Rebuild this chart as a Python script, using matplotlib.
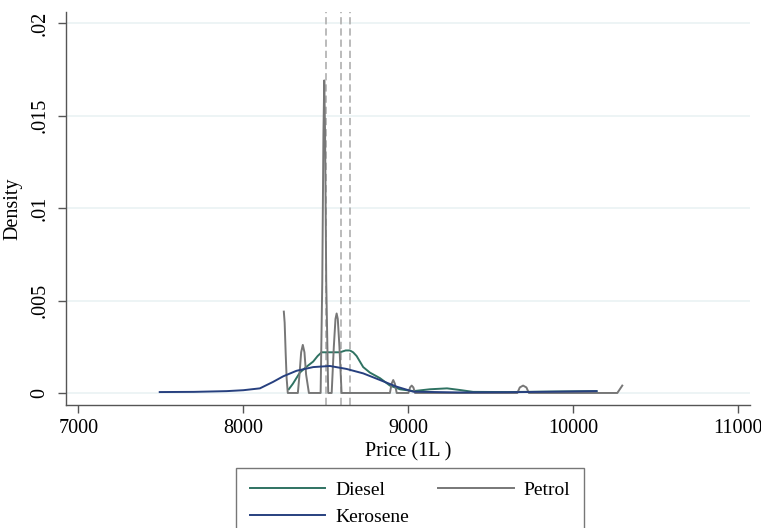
import matplotlib
matplotlib.use("Agg")
import matplotlib.pyplot as plt

# density curves (price, density)
diesel_x = [8275, 8300, 8342, 8380, 8423, 8450, 8474, 8524, 8585, 8620, 8645, 8665,
            8686, 8726, 8767, 8828, 8888, 8949, 9030, 9130, 9234, 9313, 9392, 9600,
            9900, 10140]
diesel_y = [0.0002, 0.0005, 0.0011, 0.0014, 0.0017, 0.0020, 0.0022, 0.0022, 0.0022,
            0.0023, 0.0023, 0.0022, 0.0020, 0.0014, 0.0011, 0.0008, 0.0004, 0.0002,
            0.0001, 0.0002, 0.00025, 0.00016, 0.00006, 0.00005, 0.00008, 0.0001]

petrol_x = [8245, 8250, 8256, 8262, 8269, 8330, 8340, 8350, 8360, 8370, 8380, 8397,
            8468, 8478, 8485, 8490, 8495, 8502, 8514, 8535, 8548, 8558, 8565, 8572,
            8582, 8595, 8888, 8898, 8908, 8918, 8929, 9000, 9010, 9020, 9030, 9040,
            9660, 9675, 9695, 9715, 9730, 10266, 10296]
petrol_y = [0.0044, 0.0038, 0.0022, 0.0008, 0, 0, 0.0010, 0.0022, 0.0026, 0.0022,
            0.0010, 0, 0, 0.0060, 0.0140, 0.0169, 0.0140, 0.0060, 0, 0, 0.0025,
            0.0040, 0.0043, 0.0040, 0.0025, 0, 0, 0.0005, 0.0007, 0.0005, 0, 0,
            0.0003, 0.0004, 0.0003, 0, 0, 0.0003, 0.0004, 0.0003, 0, 0, 0.0004]

kerosene_x = [7493, 7700, 7899, 8000, 8100, 8180, 8241, 8322, 8423, 8524, 8625, 8726,
              8828, 8929, 9030, 9300, 9600, 9900, 10140]
kerosene_y = [0.00005, 0.00006, 0.0001, 0.00015, 0.00025, 0.0006, 0.0009, 0.0012,
              0.0014, 0.00146, 0.0013, 0.00106, 0.0007, 0.00034, 0.00007, 0.00003,
              0.00004, 0.00007, 0.0001]

# mean prices (dashed reference lines)
mean_lines = [8500, 8591, 8646]

x_ticks = [7000, 8000, 9000, 10000, 11000]
y_ticks = [0, 0.005, 0.01, 0.015, 0.02]
y_tick_labels = ["0", ".005", ".01", ".015", ".02"]

plt.rcParams["font.family"] = ["Liberation Serif", "DejaVu Serif"]

W, H = 761, 528
fig = plt.figure(figsize=(W / 100, H / 100), dpi=100)
ax = fig.add_axes([66 / W, 1 - 405 / H, (750 - 66) / W, (405 - 12) / H])

for y in y_ticks:
    ax.axhline(y, color="#eaf2f3", lw=1.2, zorder=0)

for m in mean_lines:
    ax.axvline(m, color="#b5b5b5", lw=1.3, ls=(0, (4, 2.2)), zorder=1)

l_diesel, = ax.plot(diesel_x, diesel_y, color="#2f7262", lw=1.4, zorder=2)
l_petrol, = ax.plot(petrol_x, petrol_y, color="#777777", lw=1.4, zorder=3)
l_kero, = ax.plot(kerosene_x, kerosene_y, color="#27407f", lw=1.4, zorder=4)

ax.set_xlim(6925, 11070)
ax.set_ylim(-0.00065, 0.0206)
ax.set_xticks(x_ticks)
ax.set_xticklabels([str(v) for v in x_ticks])
ax.set_yticks(y_ticks)
ax.set_yticklabels(y_tick_labels, rotation=90, va="center")

for s in ["top", "right"]:
    ax.spines[s].set_visible(False)
for s in ["left", "bottom"]:
    ax.spines[s].set_color("#555555")
    ax.spines[s].set_linewidth(1.0)
ax.tick_params(axis="both", colors="#555555", labelcolor="black", labelsize=14.5,
               length=6, width=1.0)
ax.tick_params(axis="x", pad=4)
ax.tick_params(axis="y", pad=6)

ax.set_xlabel("Price (1L )", fontsize=14.5, labelpad=3)
ax.set_ylabel("Density", fontsize=14.5, labelpad=6)

leg = fig.legend([l_diesel, l_kero, l_petrol], ["Diesel", "Kerosene", "Petrol"],
                 ncol=2, loc="upper left", bbox_to_anchor=(236 / W, 1 - 468 / H),
                 frameon=True, fancybox=False, fontsize=14, handlelength=3.9,
                 handletextpad=0.5, columnspacing=1.5, borderpad=0.7,
                 labelspacing=0.45, borderaxespad=0)
leg.get_frame().set_edgecolor("#555555")
leg.get_frame().set_linewidth(1.0)

fig.savefig("out.png", dpi=100)
